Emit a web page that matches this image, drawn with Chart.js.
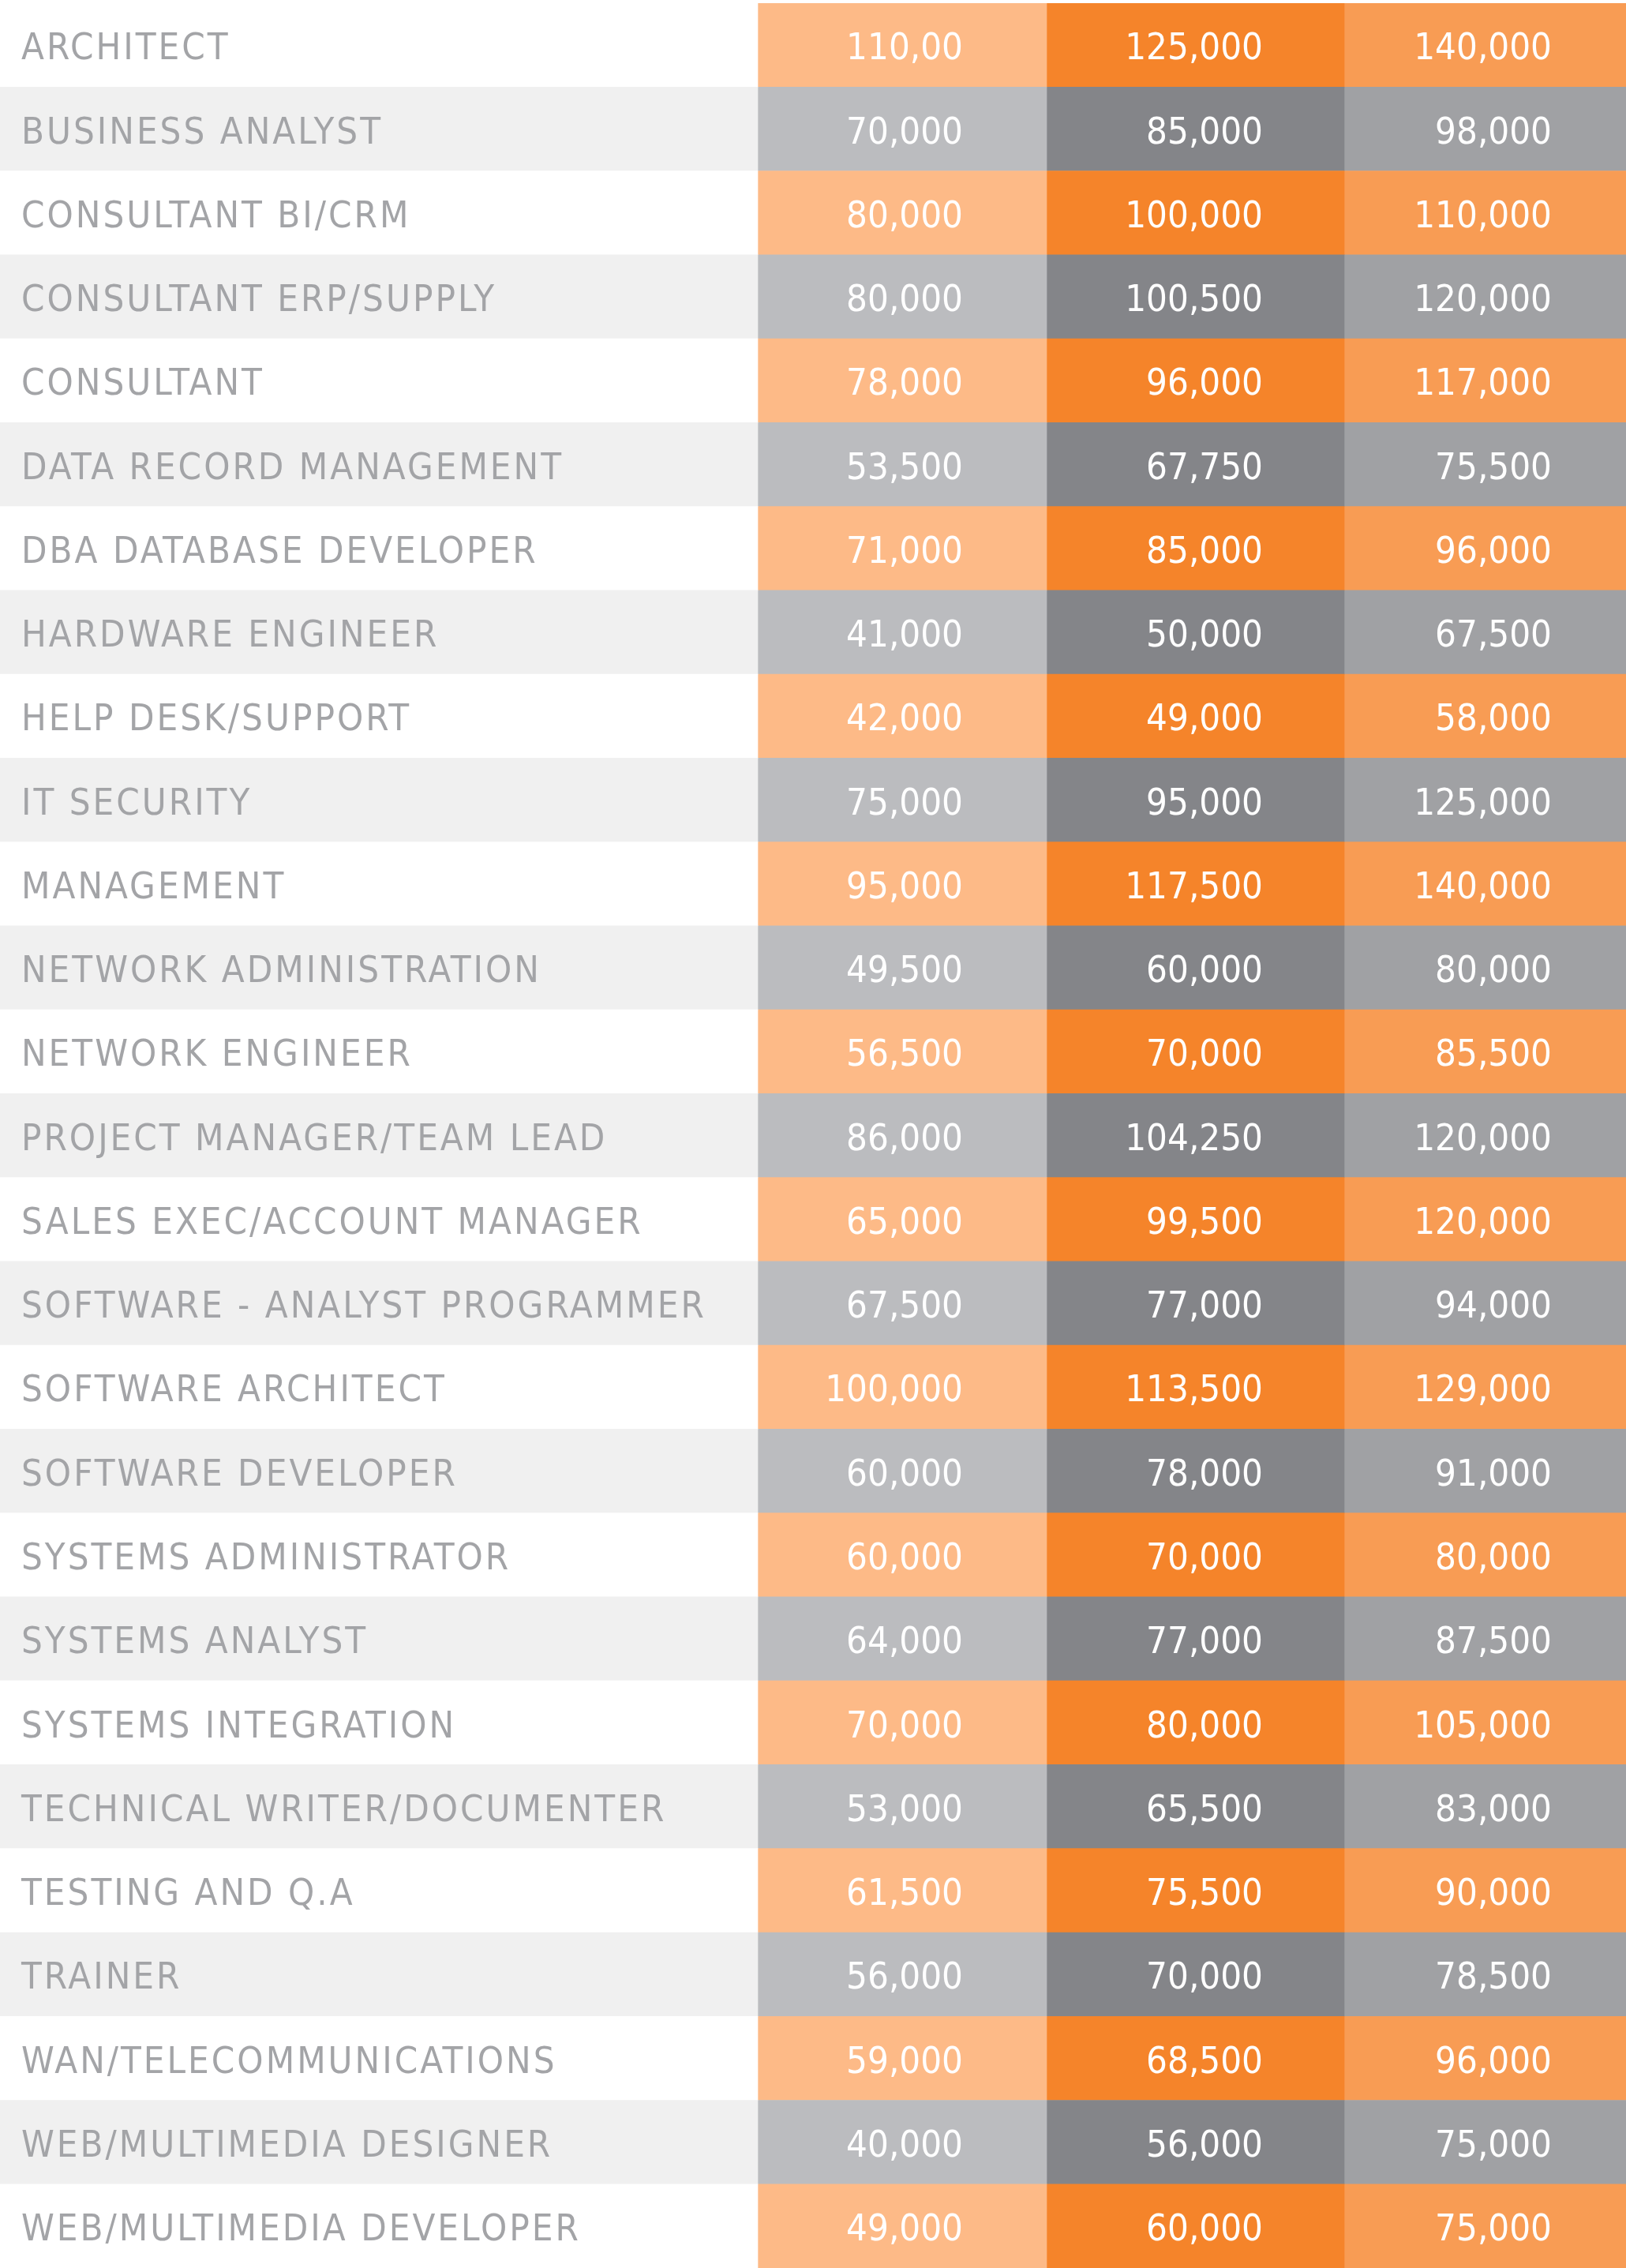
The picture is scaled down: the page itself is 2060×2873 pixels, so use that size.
<!DOCTYPE html>
<html>
<head>
<meta charset="utf-8">
<script src="https://cdn.jsdelivr.net/npm/chart.js@4/dist/chart.umd.min.js"></script>
<style>
  html, body { margin: 0; padding: 0; background: #fff; }
  canvas { display: block; }
</style>
</head>
<body>
<canvas id="salaries" width="2060" height="2873"></canvas>
<script>
// ---- data ----
const roles = [
  "ARCHITECT", "BUSINESS ANALYST", "CONSULTANT BI/CRM", "CONSULTANT ERP/SUPPLY",
  "CONSULTANT", "DATA RECORD MANAGEMENT", "DBA DATABASE DEVELOPER", "HARDWARE ENGINEER",
  "HELP DESK/SUPPORT", "IT SECURITY", "MANAGEMENT", "NETWORK ADMINISTRATION",
  "NETWORK ENGINEER", "PROJECT MANAGER/TEAM LEAD", "SALES EXEC/ACCOUNT MANAGER",
  "SOFTWARE - ANALYST PROGRAMMER", "SOFTWARE ARCHITECT", "SOFTWARE DEVELOPER",
  "SYSTEMS ADMINISTRATOR", "SYSTEMS ANALYST", "SYSTEMS INTEGRATION",
  "TECHNICAL WRITER/DOCUMENTER", "TESTING AND Q.A", "TRAINER",
  "WAN/TELECOMMUNICATIONS", "WEB/MULTIMEDIA DESIGNER", "WEB/MULTIMEDIA DEVELOPER"
];
const lowSalary = [110000, 70000, 80000, 80000, 78000, 53500, 71000, 41000, 42000, 75000,
  95000, 49500, 56500, 86000, 65000, 67500, 100000, 60000, 60000, 64000, 70000, 53000,
  61500, 56000, 59000, 40000, 49000];
const midSalary = [125000, 85000, 100000, 100500, 96000, 67750, 85000, 50000, 49000, 95000,
  117500, 60000, 70000, 104250, 99500, 77000, 113500, 78000, 70000, 77000, 80000, 65500,
  75500, 70000, 68500, 56000, 60000];
const highSalary = [140000, 98000, 110000, 120000, 117000, 75500, 96000, 67500, 58000, 125000,
  140000, 80000, 85500, 120000, 120000, 94000, 129000, 91000, 80000, 87500, 105000, 83000,
  90000, 78500, 96000, 75000, 75000];
// the source prints the first figure truncated
const printedAs = { "0-0": "110,00" };

// ---- layout (canvas pixels) ----
const W = 2060;
const colEdges = [0, 960, 1326, 1703, 2060];
const textRight = [1220, 1600, 1966];
const orangeCols = ["#fdba87", "#f5842a", "#f89c54"];
const greyCols = ["#bbbcbf", "#848589", "#a0a1a4"];
const rowBg = ["#ffffff", "#f0f0f0"];

const fmt = n => n.toLocaleString("en-US");
const span = (a, b) => roles.map(() => [colEdges[a], colEdges[b]]);
const striped = pair => roles.map((_, i) => pair[i % 2]);
const colColour = k => roles.map((_, i) => (i % 2 ? greyCols : orangeCols)[k]);

const series = [lowSalary, midSalary, highSalary];

const textPlugin = {
  id: "cellText",
  afterDatasetsDraw(chart) {
    const ctx = chart.ctx;
    const meta = chart.getDatasetMeta(0);
    ctx.save();
    ctx.textBaseline = "middle";
    ctx.font = "300 47px 'DejaVu Sans Condensed', 'DejaVu Sans', sans-serif";
    roles.forEach((role, i) => {
      const y = meta.data[i].y + 6;
      ctx.fillStyle = "#a3a4a7";
      ctx.textAlign = "left";
      ctx.letterSpacing = "3px";
      ctx.fillText(role, 27, y);
      ctx.letterSpacing = "0px";
      ctx.fillStyle = "#ffffff";
      ctx.textAlign = "right";
      series.forEach((vals, k) => {
        const txt = printedAs[k + "-" + i] || fmt(vals[i]);
        ctx.fillText(txt, textRight[k], y);
      });
    });
    ctx.restore();
  }
};

new Chart(document.getElementById("salaries"), {
  type: "bar",
  data: {
    labels: roles,
    datasets: [
      { label: "role", data: span(0, 1), backgroundColor: striped(rowBg) },
      { label: "low", data: span(1, 2), backgroundColor: colColour(0) },
      { label: "mid", data: span(2, 3), backgroundColor: colColour(1) },
      { label: "high", data: span(3, 4), backgroundColor: colColour(2) }
    ]
  },
  options: {
    indexAxis: "y",
    responsive: false,
    devicePixelRatio: 1,
    animation: false,
    layout: { padding: { top: 4, left: 0, right: 0, bottom: 0 } },
    datasets: { bar: { grouped: false, categoryPercentage: 1, barPercentage: 1, borderWidth: 0 } },
    scales: {
      x: { display: false, min: 0, max: W },
      y: { display: false }
    },
    plugins: { legend: { display: false }, tooltip: { enabled: false } }
  },
  plugins: [textPlugin]
});
</script>
</body>
</html>
